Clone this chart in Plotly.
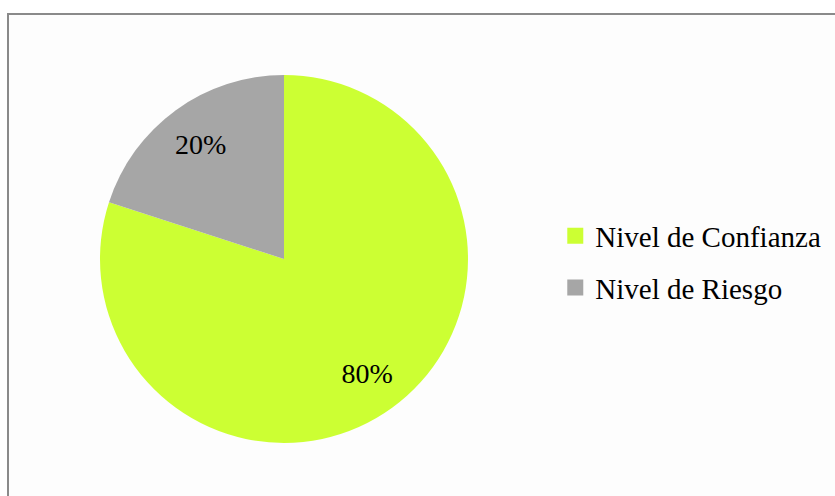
import plotly.graph_objects as go

labels = ["Nivel de Confianza", "Nivel de Riesgo"]
values = [80, 20]
colors = ["#CCFF33", "#A6A6A6"]

W, H = 835, 496
cx, cy, r = 284, 259, 184
dom_x = [(cx - r) / W, (cx + r) / W]
dom_y = [1 - (cy + r) / H, 1 - (cy - r) / H]

fig = go.Figure()
fig.add_trace(go.Pie(
    labels=labels, values=values, sort=False, direction="clockwise", rotation=0,
    marker=dict(colors=colors, line=dict(width=0)),
    textinfo="none", domain=dict(x=dom_x, y=dom_y), showlegend=False,
    hoverinfo="skip",
))
# transparent ring used to place the percentage labels at ~0.77 r
fig.add_trace(go.Pie(
    labels=labels, values=values, sort=False, direction="clockwise", rotation=0,
    hole=0.54, marker=dict(colors=["rgba(0,0,0,0)"] * 2, line=dict(width=0)),
    textinfo="percent", texttemplate="%{percent:.0%}", textposition="inside",
    insidetextorientation="horizontal",
    textfont=dict(family="Liberation Serif", size=28, color="black"),
    domain=dict(x=dom_x, y=dom_y), showlegend=False, hoverinfo="skip",
))
# legend entries (square swatches) built from the same labels/colours
for lab, col in zip(labels, colors):
    fig.add_trace(go.Scatter(
        x=[None], y=[None], mode="markers", name=lab, legendgroup=lab,
        marker=dict(symbol="square", size=16, color=col), hoverinfo="skip",
    ))

fig.add_shape(type="rect", xref="paper", yref="paper",
              x0=8 / W, x1=1.05, y0=-0.05, y1=1 - 14 / H,
              line=dict(color="#8A8A8A", width=2), fillcolor="#FDFDFD", layer="below")

fig.update_layout(
    width=W, height=H, margin=dict(l=0, r=0, t=0, b=0),
    paper_bgcolor="white", plot_bgcolor="rgba(0,0,0,0)",
    xaxis=dict(visible=False), yaxis=dict(visible=False),
    legend=dict(x=0.665, y=0.472, xanchor="left", yanchor="middle",
                font=dict(family="Liberation Serif", size=29, color="black"),
                bgcolor="rgba(0,0,0,0)", tracegroupgap=11),
)

fig.write_html("out.html", config={"displayModeBar": False},
               post_script="document.body.style.margin='0px';")
